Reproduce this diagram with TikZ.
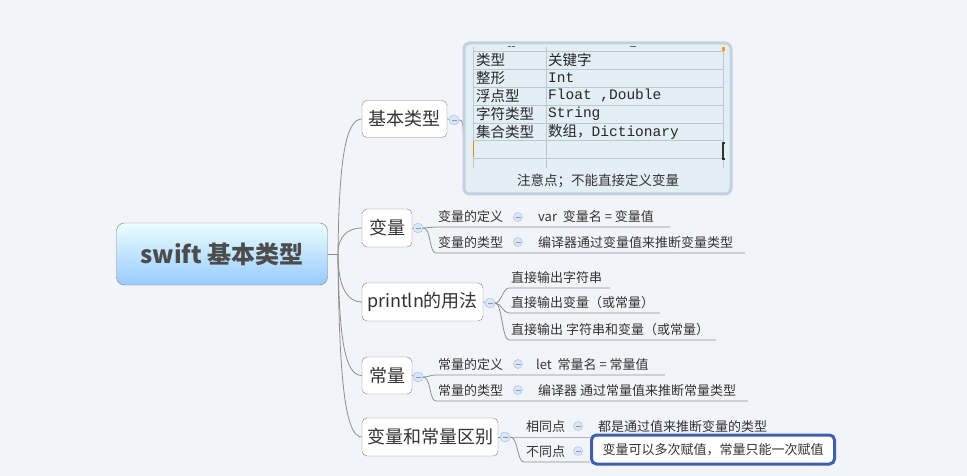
\documentclass[tikz,border=0pt]{standalone}
\usepackage{fontspec}
\setmainfont{Noto Sans CJK SC}
\newfontfamily\monofont{Liberation Mono}
\usetikzlibrary{positioning}

\definecolor{bgcol}{HTML}{F3F4F9}
\definecolor{linecol}{HTML}{8E8E8E}
\definecolor{txtcol}{HTML}{333333}
\definecolor{foldfill}{HTML}{DCE7F5}
\definecolor{folddraw}{HTML}{9FBBE0}
\definecolor{tabfill}{HTML}{E3EEF5}
\definecolor{tabframe}{HTML}{C2D1E0}
\definecolor{tabgrid}{HTML}{B7C9D5}
\definecolor{selblue}{HTML}{3D5FAE}

\tikzset{
  link/.style={draw=linecol, line width=0.8pt},
  root/.style={draw=black!50, rounded corners=8pt, top color=blue!4!cyan!8!white,
    bottom color={rgb,255:red,152;green,202;blue,255}, minimum width=211pt,
    minimum height=62pt, font=\fontsize{24}{28}\selectfont\bfseries, text=black!70},
  branch/.style={draw=black!50, fill=white, rounded corners=5pt, minimum height=37pt,
    inner xsep=0pt, font=\fontsize{18}{22}\selectfont, text=txtcol},
  fold/.style={circle, draw=folddraw, fill=foldfill, minimum size=10pt, inner sep=0pt,
    path picture={\draw[folddraw!80!blue, line width=0.8pt]
      ([xshift=-2.5pt]path picture bounding box.center) --
      ([xshift=2.5pt]path picture bounding box.center);}},
  subfold/.style={fold, minimum size=9pt},
  sub/.style={anchor=south west, inner xsep=2pt, inner ysep=3pt, text height=10pt,
    text depth=2pt, font=\fontsize{13}{15}\selectfont, text=txtcol},
  cell/.style={anchor=west, inner sep=0pt, font=\fontsize{14.5}{16}\selectfont, text=black!85},
}

\begin{document}
\begin{tikzpicture}[x=1pt, y=-1pt]
  \fill[bgcol] (0,0) rectangle (967,476);
  \useasboundingbox (0,0) rectangle (967,476);

  % Root and main branches
  \node[root] (root) at (222,254) {swift 基本类型};
  \node[branch, minimum width=85pt] (basic) at (404.5,119) {基本类型};
  \node[branch, minimum width=50pt, minimum height=38pt] (var) at (387,228) {变量};
  \node[branch, minimum width=121pt, minimum height=38pt] (prn) at (422.5,302) {println的用法};
  \node[branch, minimum width=50pt] (let) at (387,375.5) {常量};
  \node[branch, minimum width=136pt, minimum height=38pt] (diff) at (430,437) {变量和常量区别};

  % Trunk curves from the root
  \coordinate (hub) at (338,254);
  \draw[link] (root.east) -- (hub);
  \draw[link] (hub) .. controls +(1,-95) and +(-16,0) .. (basic.west);
  \draw[link] (hub) .. controls +(0,-18) and +(-14,0) .. (var.west);
  \draw[link] (hub) .. controls +(0,34) and +(-14,0) .. (prn.west);
  \draw[link] (hub) .. controls +(1,90) and +(-16,0) .. (let.west);
  \draw[link] (hub) .. controls +(1,130) and +(-16,0) .. (diff.west);

  % Fold markers of the branches
  \foreach \b/\x/\y in {basic/454/120, var/418/228, prn/490/303, let/418/377, diff/505/437} {
    \draw[link] (\b.east) -- (\x,\y);
    \node[fold] (\b fold) at (\x,\y) {};
  }

  % Table topic under the first branch
  \coordinate (tabsw) at (465,190);
  \draw[link] (basicfold.east) .. controls +(6,0) and +(-3,-60) .. (tabsw);
  \draw[tabframe, line width=3pt, fill=tabfill, rounded corners=6pt] (464,43) rectangle (731,194);
  \foreach \y in {51,69,87,105,123,140,158}
    \draw[tabgrid] (473,\y) -- (723,\y);
  \foreach \x in {473,546,723}
    \draw[tabgrid] (\x,47) -- (\x,168);
  \draw[black!60, line width=1pt] (508,46.5) -- (510.5,46.5) (512,46.5) -- (514.5,46.5)
    (630,46.5) -- (636,46.5);
  \fill[orange!80!yellow] (722,47) rectangle (725,51);
  \draw[orange!70!brown, line width=1.2pt] (473.5,141) -- (473.5,157);
  \draw[black!80, line width=2pt] (725,143) -- (723,143) -- (723,159) -- (725,159);
  \foreach \n/\y/\a/\b in {1/60/类型/关键字, 2/78/整形/{\monofont Int},
      3/96/浮点型/{\monofont Float ,Double}, 4/114/字符类型/{\monofont String},
      5/132/集合类型/数组，{\monofont Dictionary}} {
    \node[cell] (key\n) at (476,\y) {\a};
    \node[cell] (val\n) at (548,\y) {\b};
  }
  \node[font=\fontsize{13.5}{16}\selectfont, text=txtcol] (note) at (598,181) {注意点；不能直接定义变量};

  % Children of the variable branch
  \node[sub] (vdef) at (436,227) {变量的定义};
  \node[subfold] (vdeffold) at (518,217) {};
  \node[sub] (vdefval) at (536,227) {var\ \ 变量名 = 变量值};
  \coordinate (vdefend) at (670,227);
  \draw[link] (varfold.east) .. controls +(6,0) and +(-6,0) .. (vdef.south west) -- (vdefend);
  \node[sub] (vtype) at (436,253) {变量的类型};
  \node[subfold] (vtypefold) at (518,242) {};
  \node[sub] (vtypeval) at (536,253) {编译器通过变量值来推断变量类型};
  \coordinate (vtypeend) at (745,253);
  \draw[link] (varfold.east) .. controls +(8,0) and +(-7,0) .. (vtype.south west) -- (vtypeend);

  % Children of the println branch
  \node[sub] (pstr) at (509,288) {直接输出字符串};
  \coordinate (pstrend) at (610,288);
  \draw[link] (prnfold.east) .. controls +(6,0) and +(-6,0) .. (pstr.south west) -- (pstrend);
  \node[sub] (pvar) at (509,313) {直接输出变量（或常量）};
  \coordinate (pvarend) at (660,313);
  \draw[link] (prnfold.east) .. controls +(6,0) and +(-6,0) .. (pvar.south west) -- (pvarend);
  \node[sub] (pmix) at (509,340) {直接输出 字符串和变量（或常量）};
  \coordinate (pmixend) at (716,340);
  \draw[link] (prnfold.east) .. controls +(7,0) and +(-7,0) .. (pmix.south west) -- (pmixend);

  % Children of the constant branch
  \node[sub] (cdef) at (436,375) {常量的定义};
  \node[subfold] (cdeffold) at (518,364) {};
  \node[sub] (cdefval) at (534,375) {let\ \ 常量名 = 常量值};
  \coordinate (cdefend) at (665,375);
  \draw[link] (letfold.east) .. controls +(6,0) and +(-6,0) .. (cdef.south west) -- (cdefend);
  \node[sub] (ctype) at (436,401) {常量的类型};
  \node[subfold] (ctypefold) at (518,390) {};
  \node[sub] (ctypeval) at (536,401) {编译器 通过常量值来推断常量类型};
  \coordinate (ctypeend) at (748,401);
  \draw[link] (letfold.east) .. controls +(8,0) and +(-7,0) .. (ctype.south west) -- (ctypeend);

  % Children of the difference branch
  \node[sub] (same) at (524,437) {相同点};
  \node[subfold] (samefold) at (578,426) {};
  \node[sub] (sameval) at (596,437) {都是通过值来推断变量的类型};
  \coordinate (sameend) at (775,437);
  \draw[link] (difffold.east) -- (same.south west) -- (sameend);
  \node[sub] (other) at (524,462) {不同点};
  \node[subfold] (otherfold) at (578,451) {};
  \coordinate (otherend) at (590,462);
  \draw[link] (difffold.east) .. controls +(8,0) and +(-7,0) .. (other.south west) -- (otherend);
  \node[draw=selblue, line width=3pt, rounded corners=5pt, fill=white, minimum width=243pt,
    minimum height=29pt, anchor=west, font=\fontsize{13}{15}\selectfont, text=txtcol]
    (otherval) at (590,449.5) {变量可以多次赋值，常量只能一次赋值};
\end{tikzpicture}
\end{document}
